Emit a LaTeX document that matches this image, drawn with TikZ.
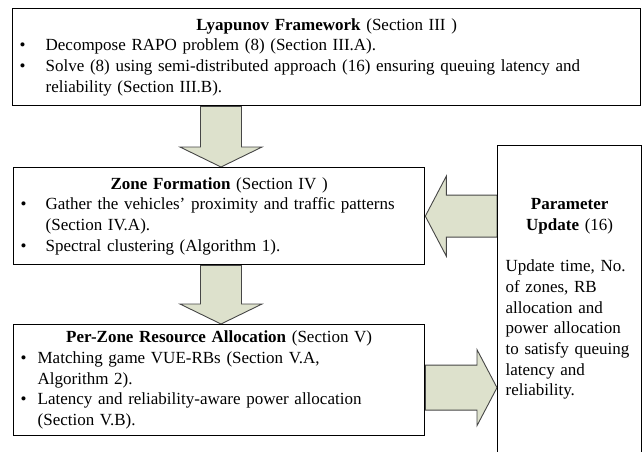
\documentclass[tikz,border=0pt]{standalone}
\usepackage{fontspec}
\setmainfont{Liberation Serif}
\usetikzlibrary{calc,backgrounds}
\definecolor{arrowfill}{RGB}{221,225,204}
\definecolor{arrowedge}{RGB}{70,70,70}
\newcommand{\bl}[1]{\makebox[#1][l]{\hspace{1pt}\textbullet}}
\newcommand{\cl}[1]{\hspace*{#1}}
\begin{document}
\begin{tikzpicture}[x=1pt,y=-1pt,
  box/.style={draw=black, line width=1.3pt, inner xsep=6pt, inner ysep=0pt,
    anchor=north west, align=left, font=\fontsize{17}{20.7}\selectfont},
  blockarrow/.style={fill=arrowfill, draw=arrowedge, line width=0.9pt, line join=miter}]
\useasboundingbox (0,0) rectangle (642,451);

\node[box, text width=616pt, minimum height=97pt] (lyap) at (12,8)
 {{\centering\textbf{Lyapunov Framework} (Section III )\par}
  \bl{27pt}Decompose RAPO problem (8) (Section III.A).\\
  \bl{27pt}Solve (8) using semi-distributed approach (16) ensuring queuing latency and\\
  \cl{27pt}reliability (Section III.B).};

\node[box, text width=399pt, minimum height=97pt] (zone) at (13,167)
 {{\centering\textbf{Zone Formation} (Section IV )\par}
  \bl{26pt}Gather the vehicles' proximity and traffic patterns\\
  \cl{26pt}(Section IV.A).\\
  \bl{26pt}Spectral clustering (Algorithm 1).};

\node[box, text width=399pt, minimum height=111pt] (perzone) at (13,324)
 {{\centering\textbf{Per-Zone Resource Allocation} (Section V)\par}
  \bl{18pt}Matching game VUE-RBs (Section V.A,\\
  \cl{18pt}Algorithm 2).\\
  \bl{18pt}Latency and reliability-aware power allocation\\
  \cl{18pt}(Section V.B).};

\node[box, text width=128pt, inner xsep=8pt] (param) at (497,145)
 {{\centering\rule{0pt}{64pt}\textbf{Parameter}\\\textbf{Update} (16)\par}\vspace{20.7pt}
  Update time, No.\\
  of zones, RB\\
  allocation and\\
  power allocation\\
  to satisfy queuing\\
  latency and\\
  reliability.\rule[-100pt]{0pt}{100pt}};

\begin{scope}[on background layer]
  \coordinate (t1) at ($(zone.north west)+(208,0)$);
  \draw[blockarrow] ($(t1 |- lyap.south)+(-20.5,0)$) -- ($(t1 |- lyap.south)+(20.5,0)$)
    -- ($(t1)+(20.5,-20)$) -- ($(t1)+(41,-20)$) -- (t1) -- ($(t1)+(-41,-20)$)
    -- ($(t1)+(-20.5,-20)$) -- cycle;
  \coordinate (t2) at ($(perzone.north west)+(208,0)$);
  \draw[blockarrow] ($(t2 |- zone.south)+(-20.5,0)$) -- ($(t2 |- zone.south)+(20.5,0)$)
    -- ($(t2)+(20.5,-20)$) -- ($(t2)+(41,-20)$) -- (t2) -- ($(t2)+(-41,-20)$)
    -- ($(t2)+(-20.5,-20)$) -- cycle;
  \coordinate (t3) at (zone.east);
  \draw[blockarrow] ($(param.west |- t3)+(0,-21)$) -- ($(t3)+(21,-21)$)
    -- ($(t3)+(21,-40)$) -- (t3) -- ($(t3)+(21,40)$) -- ($(t3)+(21,21)$)
    -- ($(param.west |- t3)+(0,21)$) -- cycle;
  \coordinate (t4) at ($(param.west |- perzone.east)+(0,7.5)$);
  \draw[blockarrow] ($(perzone.east |- t4)+(0,-22.5)$) -- ($(t4)+(-20,-22.5)$)
    -- ($(t4)+(-20,-38)$) -- (t4) -- ($(t4)+(-20,38)$) -- ($(t4)+(-20,22.5)$)
    -- ($(perzone.east |- t4)+(0,22.5)$) -- cycle;
\end{scope}
\end{tikzpicture}
\end{document}
